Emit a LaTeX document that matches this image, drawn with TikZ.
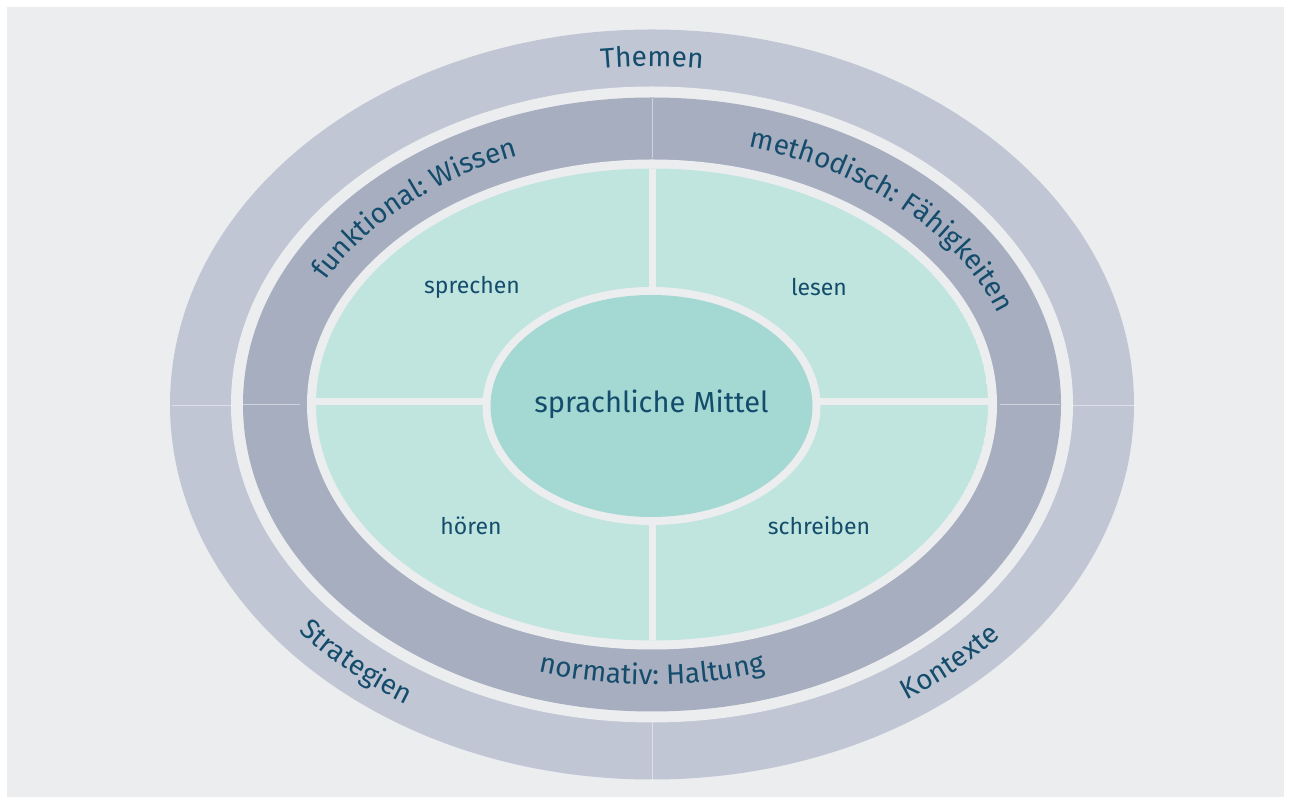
\documentclass[tikz,border=0pt]{standalone}
\usepackage{fontspec}
\setmainfont{Fira Sans}
\usetikzlibrary{decorations.text}
\definecolor{bg}{RGB}{236,237,239}
\definecolor{outerring}{RGB}{192,198,212}
\definecolor{innerring}{RGB}{167,174,192}
\definecolor{greenfill}{RGB}{192,229,223}
\definecolor{centerfill}{RGB}{163,216,211}
\definecolor{txt}{RGB}{20,76,108}
\newcommand\curvefont{\fontsize{28}{32}\selectfont}
\tikzset{
  curvetext/.style={decorate, decoration={text along path, text align=center, text color=txt, text={|\curvefont|#1}}},
  seam/.style={draw=white, draw opacity=0.45, line width=0.8},
  skill/.style={text=txt, font=\fontsize{23}{27}\selectfont},
}
\begin{document}
\begin{tikzpicture}[x=1pt,y=1pt]
\useasboundingbox (0,0) rectangle (1290,800);
\fill[white] (0,0) rectangle (1290,800);
\fill[bg] (7,3) rectangle (1284,793);
\coordinate (C) at (652,395.5);
% rings
\fill[outerring] (C) ellipse [x radius=482, y radius=375];
\fill[bg] (C) ellipse [x radius=421, y radius=318];
\fill[innerring] (C) ellipse [x radius=409, y radius=307];
\fill[bg] (C) ellipse [x radius=345, y radius=245];
% seams
\draw[seam] (172,395) -- (232,395);
\draw[seam] (1072,395) -- (1136,395);
\draw[seam] (243,396) -- (300,396);
\draw[seam] (1000,396) -- (1060,396);
\draw[seam] (652,702) -- (652,642);
\draw[seam] (652,78) -- (652,19);
% green field with cross
\begin{scope}
\clip (C) ellipse [x radius=336, y radius=236];
\fill[greenfill] (C) ellipse [x radius=336, y radius=236];
\draw[bg, line width=7] (652,150) -- (652,650);
\draw[bg, line width=7] (300,398.5) -- (1000,398.5);
\end{scope}
% centre
\fill[bg] (651.5,394) ellipse [x radius=169, y radius=119];
\fill[centerfill] (651.5,394) ellipse [x radius=161, y radius=111];
\node[text=txt, font=\fontsize{29}{33}\selectfont] (mittel) at (651.5,396) {sprachliche Mittel};
% skills
\node[skill] (sprechen) at (472,513) {sprechen};
\node[skill] (lesen) at (819,513) {lesen};
\node[skill] (hoeren) at (471,274) {hören};
\node[skill] (schreiben) at (819,274) {schreiben};
% curved labels
\path[curvetext={Themen}] (C) ++(160:443 and 338) arc[start angle=160, end angle=20, x radius=443, y radius=338];
\path[curvetext={funktional: Wissen}] (C) ++(186:368 and 267) arc[start angle=186, end angle=86, x radius=368, y radius=267];
\path[curvetext={methodisch: Fähigkeiten}] (C) ++(96:368 and 267) arc[start angle=96, end angle=-9, x radius=368, y radius=267];
\path[curvetext={normativ: Haltung}] (C) ++(225:381 and 280) arc[start angle=225, end angle=315, x radius=381, y radius=280];
\path[curvetext={Strategien}] (C) ++(196:460 and 355) arc[start angle=196, end angle=258, x radius=460, y radius=355];
\path[curvetext={Kontexte}] (C) ++(284:460 and 355) arc[start angle=284, end angle=342, x radius=460, y radius=355];
\end{tikzpicture}
\end{document}
